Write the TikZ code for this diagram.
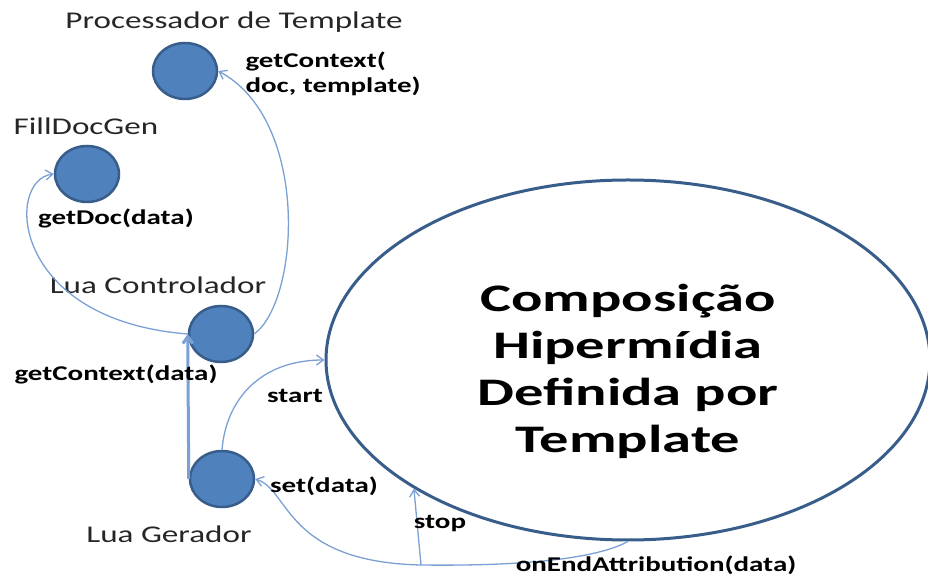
\documentclass[tikz,border=0pt]{standalone}
\usepackage{fontspec}
\setmainfont{Carlito}[FakeStretch=1.38]
\newfontfamily\compfont{Carlito}[FakeStretch=1.5]
\usepackage{xcolor}
\usepackage{tikz}
\usetikzlibrary{shapes,arrows.meta,positioning,calc}

\definecolor{objfill}{HTML}{4F81BD}
\definecolor{objline}{HTML}{385D8A}
\definecolor{msgline}{HTML}{7BA0D4}

\begin{document}
\begin{tikzpicture}[
    x=1pt, y=1pt,
    obj/.style={ellipse, draw=objline, fill=objfill, line width=2.5pt, minimum width=64pt, minimum height=56pt, inner sep=0pt},
    objlabel/.style={font=\fontsize{24}{26}\selectfont, text=black!85},
    msg/.style={font=\fontsize{21}{25}\selectfont\bfseries, text=black},
    arrow/.style={-{Straight Barb[length=7pt,width=10pt]}, msgline, line width=1.3pt},
    bigarrow/.style={arrow, line width=3pt}
]
\useasboundingbox (0,0) rectangle (928,575);

% Objects
\node[obj] (proc) at (185,504) {};
\node[obj] (fill) at (87,401) {};
\node[obj] (ctrl) at (221,241) {};
\node[obj] (ger) at (222,96) {};
\node[ellipse, draw=objline, line width=3pt, minimum width=604pt, minimum height=360pt] (comp) at (628,215) {};
\node[align=center, font=\compfont\fontsize{39}{47}\selectfont\bfseries] (comptext) at (628,204)
      {Composição\\Hipermídia\\Definida por\\Template};

% Object names
\node[objlabel] (procname) at (234,553) {Processador de Template};
\node[objlabel] (fillname) at (86,449) {FillDocGen};
\node[objlabel] (ctrlname) at (158,290) {Lua Controlador};
\node[objlabel] (gername) at (169,41) {Lua Gerador};

% Junction under the big ellipse
\coordinate (J) at (421,10);

% Messages
\draw[arrow] (ctrl.east) .. controls (300,275) and (310,455) .. (proc.east);
\draw[arrow] (ctrl.west) .. controls (10,255) and (5,395) .. (fill.west);
\draw[bigarrow] (ger.west) -- (ctrl.west);
\draw[arrow] (ger.north) .. controls (226,175) and (260,215) .. (comp.west);
\draw[arrow] (comp.south) .. controls (590,13) and (500,9) .. (J)
    .. controls (285,13) and (290,85) .. (ger.east);
\draw[arrow] (J) -- (comp.211);

% Message labels
\node[msg, align=left, anchor=west] (ctxdoc) at (242,501) {getContext(\\doc, template)};
\node[msg] (getdoc) at (116,357) {getDoc(data)};
\node[msg] (ctxdata) at (116,201) {getContext(data)};
\node[msg] (start) at (295,179) {start};
\node[msg] (set) at (324,89) {set(data)};
\node[msg] (stop) at (440,51) {stop};
\node[msg] (onend) at (656,10) {onEndAttribution(data)};
\end{tikzpicture}
\end{document}
